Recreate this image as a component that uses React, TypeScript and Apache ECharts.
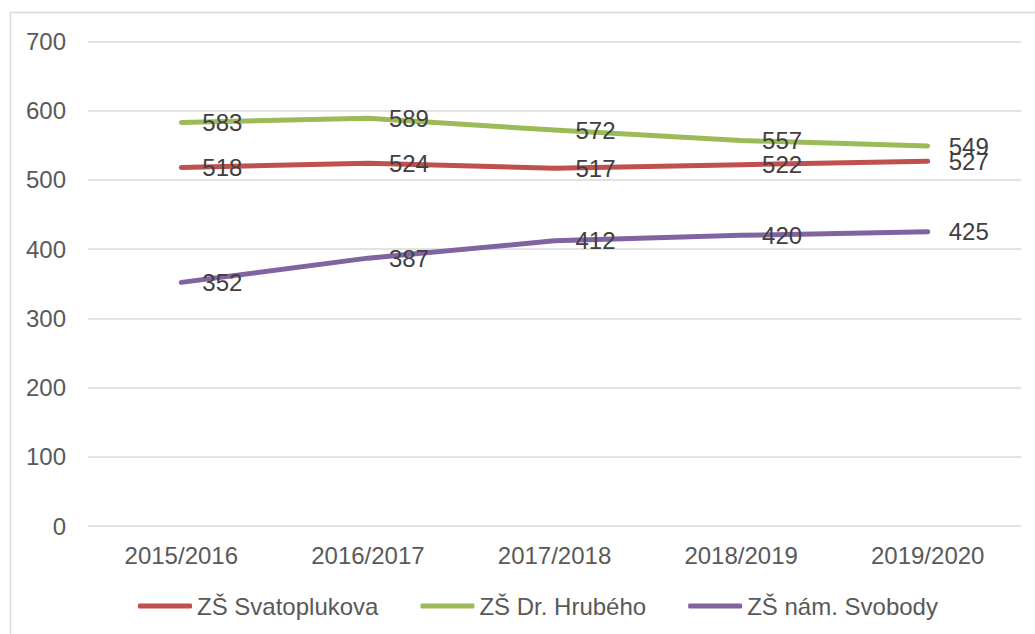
import React, { useEffect, useRef } from "react";
import * as echarts from "echarts";

const categories = ["2015/2016", "2016/2017", "2017/2018", "2018/2019", "2019/2020"];
const svatoplukova = [518, 524, 517, 522, 527];
const hrubeho = [583, 589, 572, 557, 549];
const svobody = [352, 387, 412, 420, 425];
const seriesNames = ["ZŠ Svatoplukova", "ZŠ Dr. Hrubého", "ZŠ nám. Svobody"];
const seriesColors = ["#C0504D", "#9BBB59", "#8064A2"];

const FONT = "'Liberation Sans', Arial, sans-serif";

export default function App() {
  const ref = useRef<HTMLDivElement>(null);
  useEffect(() => {
    if (!ref.current) return;
    const chart = echarts.init(ref.current, null, { renderer: "svg" });
    const data = [svatoplukova, hrubeho, svobody];
    chart.setOption({
      animation: false,
      backgroundColor: "#ffffff",
      textStyle: { fontFamily: FONT },
      graphic: [
        {
          type: "rect",
          shape: { x: 10.5, y: 12.5, width: 1100, height: 700 },
          style: { fill: "none", stroke: "#D9D9D9", lineWidth: 1.5 },
          silent: true,
        },
      ],
      grid: { left: 88, right: 14, top: 41.5, bottom: 108, containLabel: false },
      legend: {
        left: 133,
        top: 589,
        itemWidth: 54,
        itemHeight: 5,
        itemGap: 42,
        icon: "roundRect",
        textStyle: { fontSize: 24, color: "#595959", fontFamily: FONT },
        data: seriesNames.map((n, i) => ({ name: n, itemStyle: { color: seriesColors[i] } })),
      },
      xAxis: {
        type: "category",
        data: categories,
        boundaryGap: true,
        axisLine: { show: false },
        axisTick: { show: false },
        axisLabel: { fontSize: 24, color: "#595959", margin: 17, fontFamily: FONT },
      },
      yAxis: {
        type: "value",
        min: 0,
        max: 700,
        interval: 100,
        axisLine: { show: false },
        axisTick: { show: false },
        splitLine: { lineStyle: { color: "#D9D9D9", width: 1.5 } },
        axisLabel: { fontSize: 24, color: "#595959", margin: 22, fontFamily: FONT },
      },
      series: seriesNames.map((name, i) => ({
        name,
        type: "line",
        data: data[i],
        color: seriesColors[i],
        symbol: "circle",
        symbolSize: 0,
        showSymbol: true,
        itemStyle: { color: seriesColors[i] },
        lineStyle: { width: 5, color: seriesColors[i], cap: "round", join: "round" },
        labelLayout: { hideOverlap: false },
        label: {
          show: true,
          position: "right",
          distance: 21,
          fontSize: 24,
          color: "#404040",
          fontFamily: FONT,
        },
      })),
    });
    return () => chart.dispose();
  }, []);
  return (
    <div
      ref={ref}
      style={{ position: "absolute", left: 0, top: 0, width: 1035, height: 634 }}
    />
  );
}
